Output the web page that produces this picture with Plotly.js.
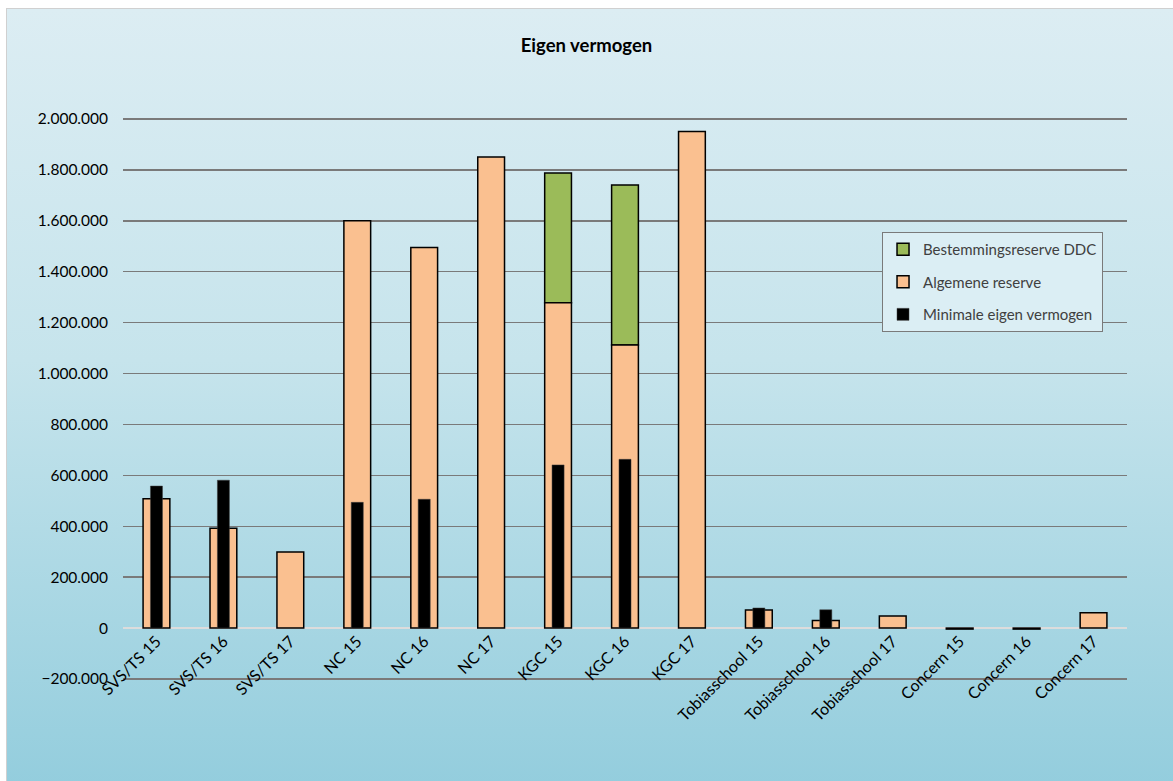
<!DOCTYPE html>
<html>
<head>
<meta charset="utf-8">
<script src="https://cdn.plot.ly/plotly-3.0.1.min.js"></script>
<style>
  html, body { margin: 0; padding: 0; background: #ffffff; }
  #bg {
    position: absolute; left: 6px; top: 8px; width: 1170px; height: 780px;
    border-left: 1px solid #d0d0d0; border-top: 1px solid #d0d0d0;
    background: linear-gradient(to bottom, #dcedf3 0%, #c6e4ec 45%, #93cddd 100%);
  }
  #chart { position: absolute; left: 0; top: 0; width: 1173px; height: 781px; }
</style>
</head>
<body>
<div id="bg"></div>
<div id="chart"></div>
<script>
// categories and values (euro)
const categories = ['SVS/TS 15', 'SVS/TS 16', 'SVS/TS 17', 'NC 15', 'NC 16', 'NC 17',
  'KGC 15', 'KGC 16', 'KGC 17', 'Tobiasschool 15', 'Tobiasschool 16', 'Tobiasschool 17',
  'Concern 15', 'Concern 16', 'Concern 17'];

const algemeneReserve = [508000, 392000, 299000, 1600000, 1495000, 1851000,
  1278000, 1112000, 1951000, 71000, 30000, 47000, -4000, -4000, 60000];

const bestemmingsreserveDDC = [null, null, null, null, null, null,
  510000, 629000, null, null, null, null, null, null, null];

const minimaalEV = [558000, 581000, null, 494000, 506000, null,
  641000, 663000, null, 79000, 72000, null, null, null, null];

const yTicks = [-200000, 0, 200000, 400000, 600000, 800000, 1000000,
  1200000, 1400000, 1600000, 1800000, 2000000];

// pad so the outer gridlines are drawn
const yMin = -204000, yMax = 2004000;

const traces = [
  {
    // green part sits on top of the orange part
    type: 'bar', name: 'Bestemmingsreserve DDC', legendgroup: 'a',
    x: categories, y: bestemmingsreserveDDC, base: algemeneReserve, width: 0.4,
    marker: { color: '#9bbb59', line: { color: '#000000', width: 1.5 } }
  },
  {
    type: 'bar', name: 'Algemene reserve', legendgroup: 'b',
    x: categories, y: algemeneReserve, width: 0.4,
    marker: { color: '#fac090', line: { color: '#000000', width: 1.5 } }
  },
  {
    type: 'bar', name: 'Minimale eigen vermogen', legendgroup: 'c',
    x: categories, y: minimaalEV, width: 0.18,
    marker: { color: '#000000', line: { color: '#404040', width: 0.5 } }
  }
];

const layout = {
  width: 1173,
  height: 781,
  paper_bgcolor: 'rgba(0,0,0,0)',
  plot_bgcolor: 'rgba(0,0,0,0)',
  separators: ',.',
  barmode: 'overlay',
  margin: { l: 123, r: 46, t: 118, b: 101 },
  font: { family: 'Lato, "Open Sans", sans-serif', color: '#000000' },
  title: {
    text: '<b>Eigen vermogen</b>',
    x: 0.5, xanchor: 'center',
    y: 0.942, yanchor: 'middle',
    font: { size: 18.5, color: '#000000', family: 'Lato, sans-serif' }
  },
  xaxis: {
    type: 'category',
    categoryorder: 'array',
    categoryarray: categories,
    anchor: 'free',
    position: (0 - yMin) / (yMax - yMin),
    showline: false,
    showgrid: false,
    ticks: '',
    tickangle: -45,
    tickfont: { size: 16 },
    range: [-0.5, categories.length - 0.5]
  },
  yaxis: {
    range: [yMin, yMax],
    tickvals: yTicks,
    tickformat: ',d',
    tickfont: { size: 15.5 },
    showgrid: true,
    gridcolor: '#7a7a7a',
    gridwidth: 1.5,
    zeroline: true,
    zerolinecolor: '#dcdcdc',
    zerolinewidth: 2,
    showline: false,
    ticks: '',
    ticklabelstandoff: 14
  },
  legend: {
    x: 0.756, y: 0.797, xanchor: 'left', yanchor: 'top',
    bgcolor: '#dbeef4',
    bordercolor: '#7a7a7a',
    borderwidth: 1,
    tracegroupgap: 10,
    traceorder: 'grouped',
    font: { size: 15, color: '#404040' }
  },
  showlegend: true
};

Plotly.newPlot('chart', traces, layout, { displayModeBar: false, staticPlot: true });
</script>
</body>
</html>
